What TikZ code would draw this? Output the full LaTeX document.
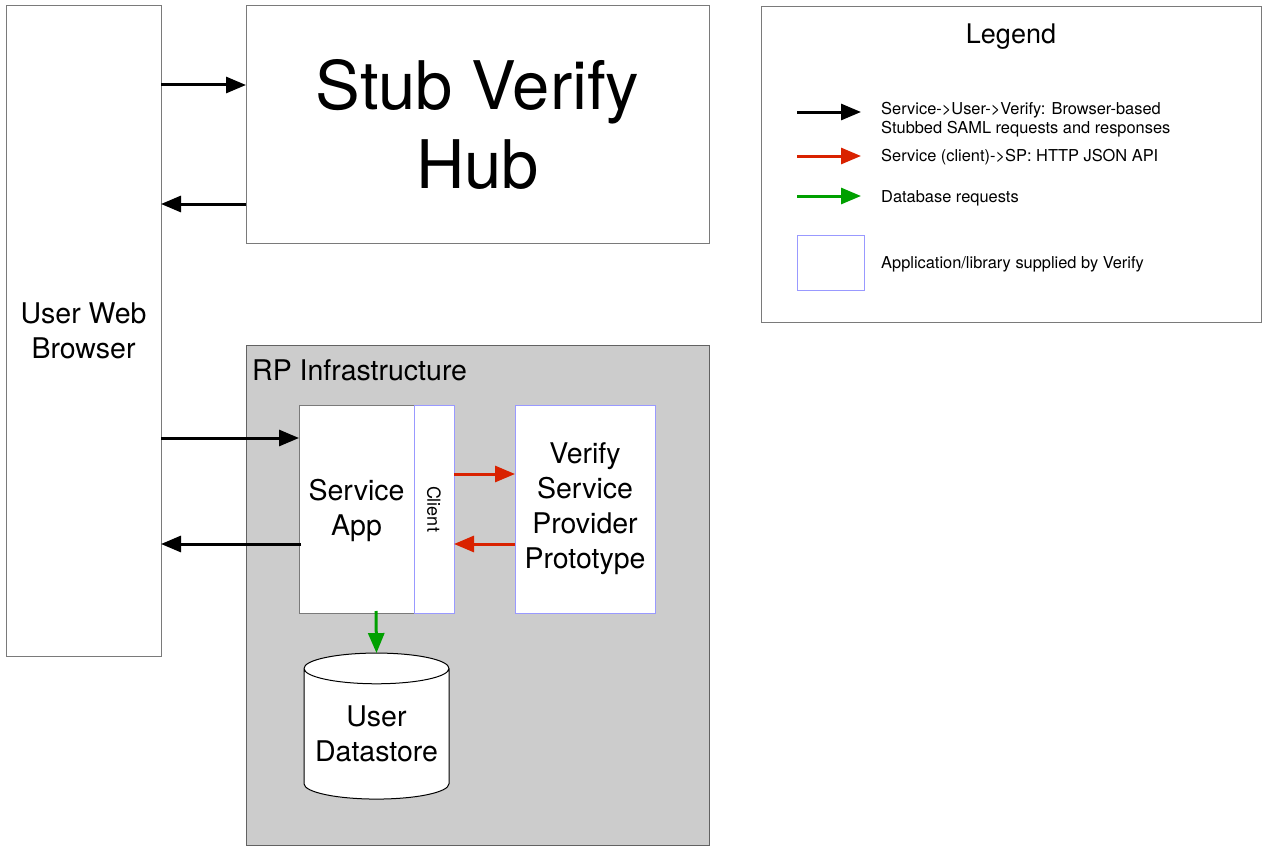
\documentclass[tikz,border=0pt]{standalone}
\usepackage{fontspec}
\setmainfont{TeX Gyre Heros}
\usepackage{tikz}
\usetikzlibrary{arrows.meta,shapes.geometric,positioning}

\definecolor{edgegrey}{HTML}{7A7A7A}
\definecolor{infragrey}{HTML}{CCCCCC}
\definecolor{verifyblue}{HTML}{9999FF}
\definecolor{apired}{HTML}{D92200}
\definecolor{dbgreen}{HTML}{00A000}

\begin{document}
\begin{tikzpicture}
[
    x = 1pt, y = -1pt,
    box/.style = {draw = edgegrey, fill = white, line width = 1pt, inner sep = 0pt, outer sep = 0pt,
                  align = center, anchor = north west},
    verifybox/.style = {box, draw = verifyblue},
    huge text/.style = {font = \fontsize{67}{79}\selectfont},
    big text/.style = {font = \fontsize{28.5}{35}\selectfont},
    small text/.style = {font = \fontsize{16.4}{19}\selectfont, inner sep = 0pt, align = left, anchor = base west},
    flow/.style = {line width = 3pt, -{Triangle[length = 20pt, width = 16pt]}},
]
\useasboundingbox (0,0) rectangle (1267,851);

\node[box, big text, minimum width = 155pt, minimum height = 650pt] (browser) at (6,6) {User Web\\Browser};
\node[box, huge text, minimum width = 463pt, minimum height = 237pt] (hub) at (246,6) {Stub Verify\\Hub};

\node[box, fill = infragrey, draw = edgegrey!80!black, minimum width = 463pt, minimum height = 500pt] (infra) at (246,345) {};
\node[big text, inner sep = 0pt, anchor = base west] (infralabel) at (252,380) {RP Infrastructure};

\node[box, big text, minimum width = 115pt, minimum height = 208pt, text depth = 4pt] (app) at (299,405) {Service\\App};
\node[verifybox, minimum width = 40pt, minimum height = 208pt] (client) at (414,405) {};
\node[rotate = -90, font = \fontsize{18}{22}\selectfont, inner sep = 0pt] (clientlabel) at (client.center) {Client};
\node[verifybox, big text, minimum width = 140pt, minimum height = 208pt] (vsp) at (515,405) {Verify\\Service\\Provider\\Prototype};

\node[cylinder, shape border rotate = 90, draw = black, fill = white, line width = 1pt, big text, align = center,
      inner sep = 0pt, outer sep = 0pt, aspect = 0.25, minimum width = 145pt, minimum height = 146pt]
      (datastore) at (376.5,734) {User\\Datastore};

\draw[flow] ([yshift = 246pt]browser.east) -- ([yshift = 39.5pt]hub.west);
\draw[flow] ([yshift = -79.5pt]hub.west) -- ([yshift = 127pt]browser.east);
\draw[flow] ([yshift = -107pt]browser.east) -- ([yshift = 71pt]app.west);
\draw[flow] ([yshift = -35pt, xshift = 2pt]app.west) -- ([yshift = -213pt]browser.east);
\draw[flow, apired] ([yshift = 35pt]client.east) -- ([yshift = 35pt]vsp.west);
\draw[flow, apired] ([yshift = -35pt]vsp.west) -- ([yshift = -35pt]client.east);
\draw[flow, dbgreen] ([xshift = 19.5pt, yshift = 2pt]app.south) -- (datastore.north);

\node[box, minimum width = 500pt, minimum height = 315pt] (legend) at (761,7) {};
\node[font = \fontsize{27}{32}\selectfont, inner sep = 0pt] (legendtitle) at (1011,37) {Legend};

\coordinate (samlfrom) at (797,112);
\coordinate (samlto) at (861,112);
\coordinate (apifrom) at (797,156);
\coordinate (apito) at (861,156);
\coordinate (dbfrom) at (797,196);
\coordinate (dbto) at (861,196);
\draw[flow] (samlfrom) -- (samlto);
\draw[flow, apired] (apifrom) -- (apito);
\draw[flow, dbgreen] (dbfrom) -- (dbto);
\node[verifybox, minimum width = 67pt, minimum height = 55pt] (verifykey) at (797,235) {};

\node[small text] (samltext) at (881,133) {Service->User->Verify: Browser-based\\Stubbed SAML requests and responses};
\node[small text] (apitext) at (881,161) {Service (client)->SP: HTTP JSON API};
\node[small text] (dbtext) at (881,202) {Database requests};
\node[small text] (verifytext) at (881,268) {Application/library supplied by Verify};
\end{tikzpicture}
\end{document}
